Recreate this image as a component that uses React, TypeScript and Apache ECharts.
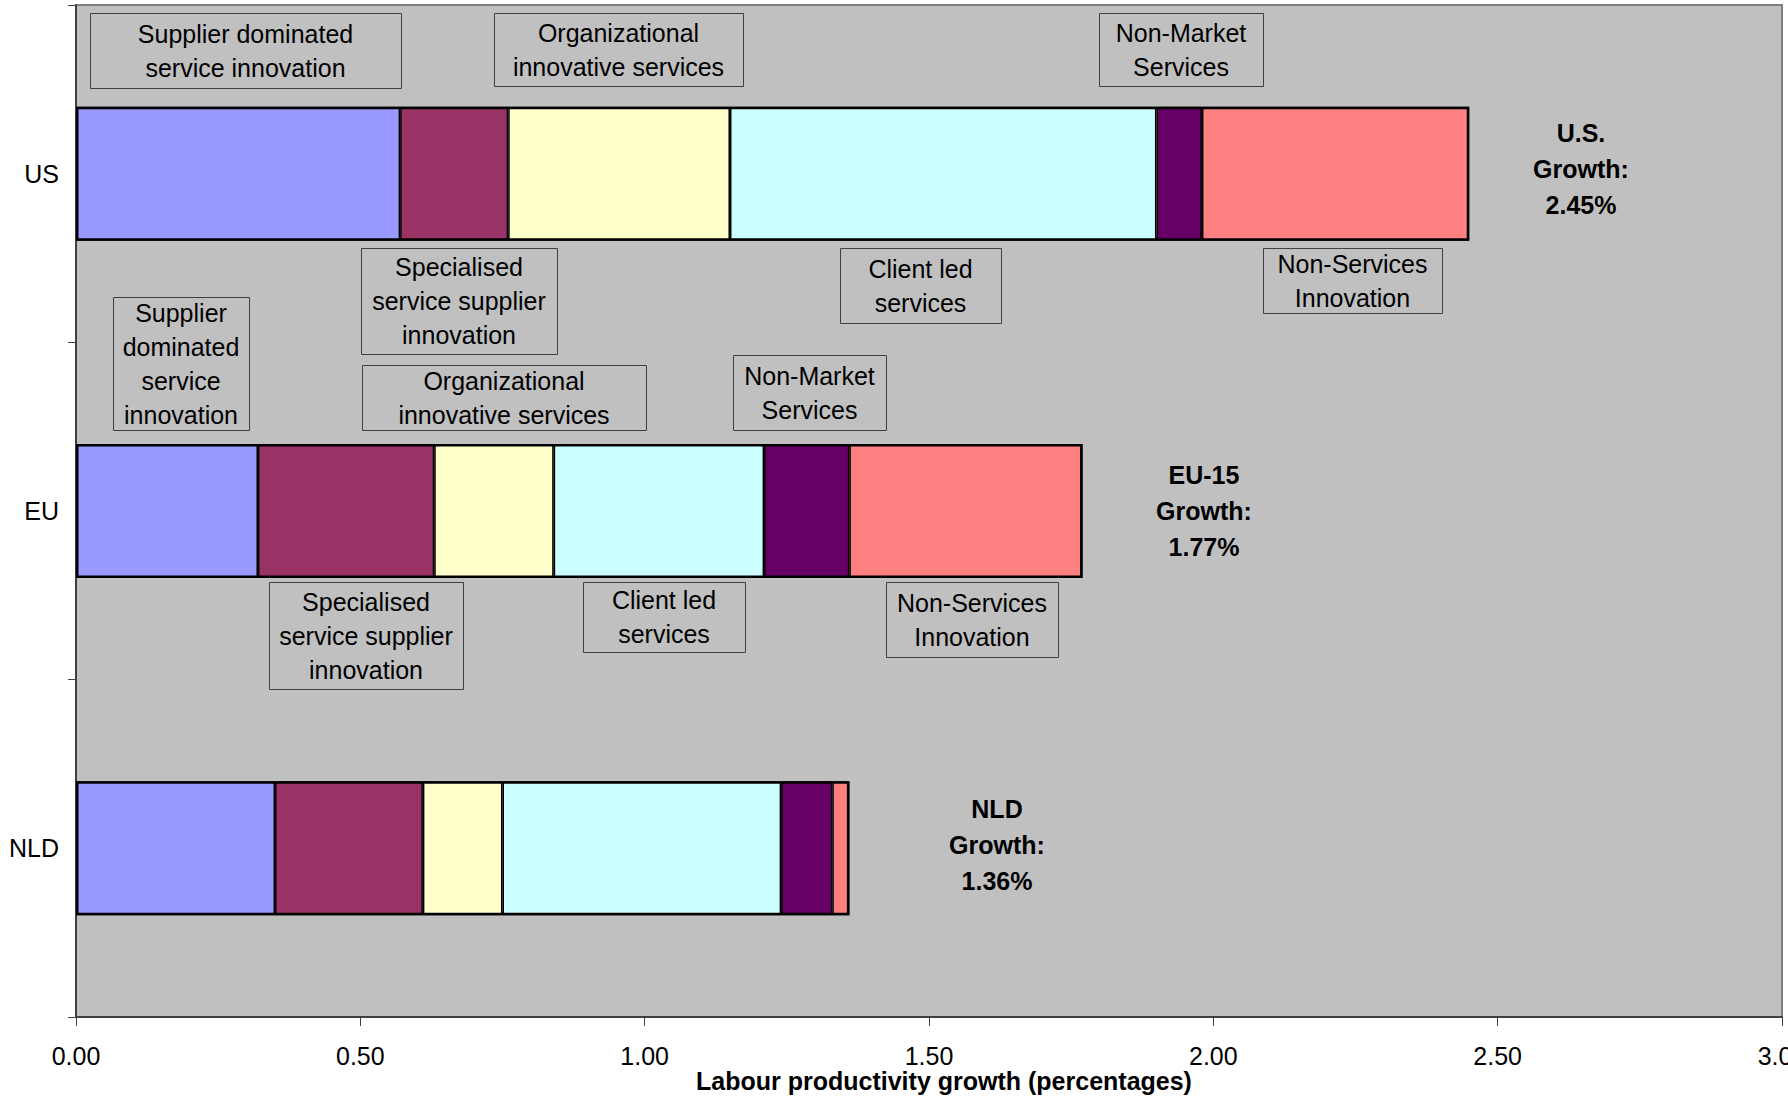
import React, { useEffect, useRef } from 'react';
import * as echarts from 'echarts';

// ---- data ----
const categories = ['US', 'EU', 'NLD'];
const seriesNames = [
  'Supplier dominated service innovation',
  'Specialised service supplier innovation',
  'Organizational innovative services',
  'Client led services',
  'Non-Market Services',
  'Non-Services Innovation',
];
const seriesColors = ['#9999FF', '#993366', '#FFFFCC', '#CCFFFF', '#660066', '#FF8080'];
const supplierDominated = [0.57, 0.32, 0.35];
const specialisedSupplier = [0.19, 0.31, 0.26];
const organizational = [0.39, 0.21, 0.14];
const clientLed = [0.75, 0.37, 0.49];
const nonMarket = [0.08, 0.15, 0.09];
const nonServices = [0.47, 0.41, 0.03];
const seriesValues = [supplierDominated, specialisedSupplier, organizational, clientLed, nonMarket, nonServices];
const growthNames = ['U.S.', 'EU-15', 'NLD'];
const growthTotals = [2.45, 1.77, 1.36];
const xMin = 0;
const xMax = 3;
const xInterval = 0.5;
const xTitle = 'Labour productivity growth (percentages)';

// ---- annotation layout (label boxes) ----
const annotationLines = [
  ['Supplier dominated', 'service innovation'],
  ['Organizational', 'innovative services'],
  ['Non-Market', 'Services'],
  ['Specialised', 'service supplier', 'innovation'],
  ['Client led', 'services'],
  ['Non-Services', 'Innovation'],
  ['Supplier', 'dominated', 'service', 'innovation'],
  ['Organizational', 'innovative services'],
  ['Non-Market', 'Services'],
  ['Specialised', 'service supplier', 'innovation'],
  ['Client led', 'services'],
  ['Non-Services', 'Innovation'],
];
const annotationBoxes = [
  [90, 13, 311, 75],
  [494, 13, 249, 73],
  [1099, 13, 164, 73],
  [361, 248, 196, 106],
  [840, 248, 161, 75],
  [1263, 248, 179, 65],
  [113, 297, 136, 133],
  [362, 365, 284, 65],
  [733, 355, 153, 75],
  [269, 582, 194, 107],
  [583, 582, 162, 70],
  [886, 582, 172, 75],
];
const growthPos = [
  [1581, 169],
  [1204, 511],
  [997, 845],
];

const FONT = '"Liberation Sans", Arial, Helvetica, sans-serif';

export default function App() {
  const ref = useRef<HTMLDivElement>(null);
  useEffect(() => {
    if (!ref.current) return;
    const chart = echarts.init(ref.current, undefined, { renderer: 'svg' });
    const totals = categories.map((_, i) => seriesValues.reduce((s, arr) => s + arr[i], 0));

    const graphic: any[] = [];
    annotationBoxes.forEach((b, i) => {
      graphic.push({
        type: 'rect',
        shape: { x: b[0] + 0.5, y: b[1] + 0.5, width: b[2], height: b[3] },
        style: { fill: 'none', stroke: '#404040', lineWidth: 1 },
        z: 100,
      });
      graphic.push({
        type: 'text',
        x: b[0] + b[2] / 2,
        y: b[1] + b[3] / 2,
        style: {
          text: annotationLines[i].join('\n'),
          fill: '#000',
          fontSize: 25,
          fontFamily: FONT,
          align: 'center',
          verticalAlign: 'middle',
          lineHeight: 34,
        },
        z: 101,
      });
    });
    growthPos.forEach((p, i) => {
      graphic.push({
        type: 'text',
        x: p[0],
        y: p[1],
        style: {
          text: `${growthNames[i]}\nGrowth:\n${growthTotals[i].toFixed(2)}%`,
          fill: '#000',
          fontSize: 25,
          fontWeight: 'bold',
          fontFamily: FONT,
          align: 'center',
          verticalAlign: 'middle',
          lineHeight: 36,
        },
        z: 101,
      });
    });
    graphic.push({
      type: 'text',
      x: 944,
      y: 1081,
      style: {
        text: xTitle,
        fill: '#000',
        fontSize: 25,
        fontWeight: 'bold',
        fontFamily: FONT,
        align: 'center',
        verticalAlign: 'middle',
      },
      z: 101,
    });

    const series: any[] = seriesNames.map((name, si) => ({
      name,
      type: 'bar',
      stack: 'total',
      data: seriesValues[si],
      barWidth: 134,
      barGap: '-100%',
      itemStyle: { color: seriesColors[si], borderColor: '#000', borderWidth: 1.5 },
    }));
    series.push({
      name: 'total',
      type: 'bar',
      data: totals,
      barWidth: 134,
      barGap: '-100%',
      silent: true,
      z: 5,
      itemStyle: { color: 'rgba(0,0,0,0)', borderColor: '#000', borderWidth: 2.5 },
    });

    chart.setOption({
      animation: false,
      backgroundColor: '#fff',
      textStyle: { fontFamily: FONT },
      grid: {
        left: 76,
        top: 5,
        width: 1706,
        height: 1012,
        containLabel: false,
        outerBoundsMode: 'none',
        show: true,
        backgroundColor: '#C0C0C0',
        borderColor: '#808080',
        borderWidth: 2,
      },
      xAxis: {
        type: 'value',
        min: xMin,
        max: xMax,
        interval: xInterval,
        splitLine: { show: false },
        axisLine: { show: true, lineStyle: { color: '#404040', width: 2 } },
        axisTick: { show: true, length: 9, lineStyle: { color: '#404040', width: 1 } },
        axisLabel: {
          color: '#000',
          fontSize: 25,
          fontFamily: FONT,
          margin: 26,
          hideOverlap: false,
          formatter: (v: number) => v.toFixed(2),
        },
      },
      yAxis: {
        type: 'category',
        data: categories,
        inverse: true,
        axisLine: { show: true, lineStyle: { color: '#404040', width: 2 } },
        axisTick: { show: true, length: 8, lineStyle: { color: '#404040', width: 1 } },
        axisLabel: { color: '#000', fontSize: 25, fontFamily: FONT, margin: 17 },
        splitLine: { show: false },
      },
      series,
      graphic,
    });
    return () => chart.dispose();
  }, []);
  return (
    <div
      ref={ref}
      style={{ position: 'absolute', left: 0, top: 0, width: 1788, height: 1105 }}
    />
  );
}
